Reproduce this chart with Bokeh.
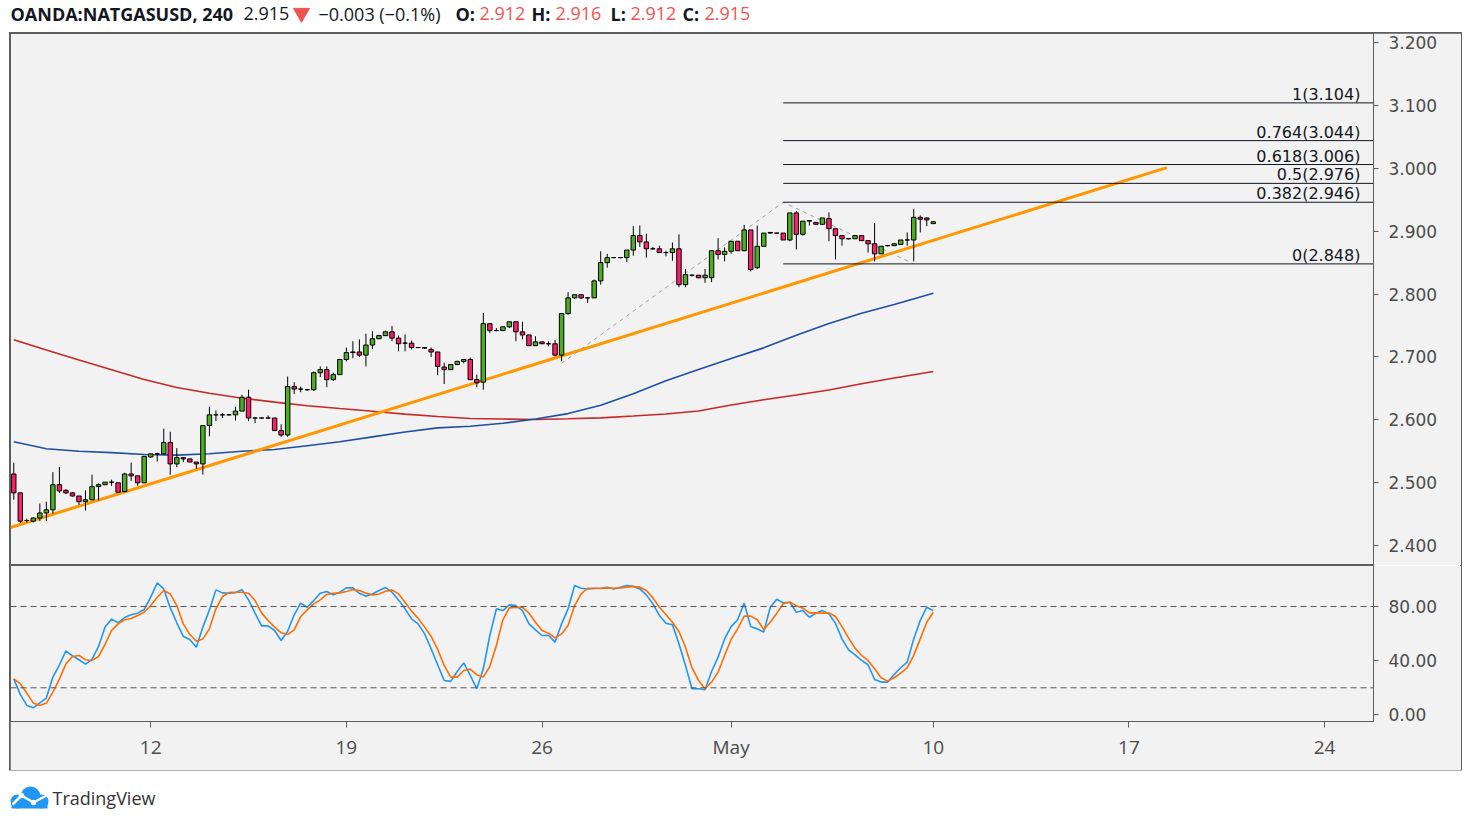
from bokeh.plotting import figure
from bokeh.layouts import column, row
from bokeh.models import (Range1d, FixedTicker, Span, ColumnDataSource, NumeralTickFormatter,
                          Spacer, BoxAnnotation)
from bokeh.core.properties import value
from bokeh.embed import file_html
from bokeh.resources import INLINE

# ---------------- data ----------------
symbol = "OANDA:NATGASUSD, 240"
last_price = 2.915
change = -0.003
change_pct = -0.1
hdr_o, hdr_h, hdr_l, hdr_c = 2.912, 2.916, 2.912, 2.915

opens = [2.514,2.484,2.440,2.439,2.444,2.452,2.457,2.497,2.488,2.484,
         2.479,2.470,2.473,2.494,2.497,2.501,2.500,2.486,2.514,2.511,
         2.500,2.541,2.546,2.546,2.564,2.530,2.540,2.538,2.533,2.530,
         2.591,2.608,2.608,2.608,2.608,2.614,2.636,2.603,2.603,2.603,
         2.603,2.583,2.576,2.653,2.649,2.648,2.648,2.675,2.680,2.664,
         2.672,2.696,2.707,2.708,2.703,2.719,2.729,2.734,2.740,2.730,
         2.722,2.722,2.715,2.715,2.712,2.708,2.684,2.680,2.688,2.693,
         2.696,2.664,2.660,2.753,2.742,2.742,2.748,2.756,2.740,2.735,
         2.718,2.724,2.721,2.721,2.703,2.769,2.794,2.799,2.794,2.794,
         2.821,2.850,2.858,2.858,2.858,2.870,2.893,2.883,2.872,2.872,
         2.866,2.866,2.872,2.815,2.830,2.830,2.826,2.826,2.869,2.863,
         2.868,2.884,2.869,2.902,2.842,2.876,2.897,2.897,2.897,2.886,
         2.929,2.895,2.916,2.914,2.911,2.920,2.904,2.893,2.888,2.888,
         2.893,2.885,2.880,2.864,2.877,2.877,2.879,2.886,2.886,2.922,
         2.921,2.912]
highs = [2.532,2.484,2.443,2.445,2.467,2.470,2.517,2.525,2.490,2.485,
         2.479,2.488,2.513,2.499,2.501,2.505,2.500,2.516,2.532,2.511,
         2.542,2.546,2.548,2.586,2.581,2.555,2.540,2.538,2.533,2.592,
         2.621,2.615,2.611,2.609,2.621,2.640,2.648,2.604,2.604,2.607,
         2.603,2.593,2.669,2.660,2.653,2.649,2.677,2.685,2.685,2.675,
         2.696,2.715,2.725,2.728,2.737,2.741,2.734,2.742,2.749,2.734,
         2.736,2.726,2.715,2.715,2.715,2.708,2.691,2.688,2.694,2.696,
         2.699,2.672,2.770,2.753,2.746,2.748,2.756,2.756,2.756,2.735,
         2.733,2.724,2.725,2.727,2.770,2.803,2.799,2.799,2.795,2.823,
         2.868,2.864,2.858,2.858,2.870,2.908,2.909,2.896,2.875,2.877,
         2.869,2.882,2.895,2.840,2.831,2.830,2.840,2.869,2.889,2.874,
         2.884,2.884,2.910,2.902,2.909,2.897,2.898,2.897,2.897,2.929,
         2.932,2.916,2.917,2.914,2.921,2.930,2.904,2.893,2.888,2.893,
         2.893,2.885,2.913,2.876,2.878,2.880,2.886,2.898,2.935,2.925,
         2.922,2.916]
lows = [2.473,2.436,2.437,2.437,2.439,2.439,2.451,2.484,2.482,2.478,
        2.465,2.456,2.472,2.472,2.496,2.495,2.485,2.485,2.503,2.495,
        2.500,2.540,2.534,2.545,2.513,2.525,2.533,2.533,2.522,2.513,
        2.574,2.598,2.603,2.607,2.599,2.614,2.598,2.595,2.602,2.602,
        2.583,2.573,2.573,2.641,2.644,2.646,2.646,2.668,2.652,2.662,
        2.672,2.693,2.698,2.700,2.685,2.713,2.729,2.733,2.725,2.709,
        2.709,2.712,2.714,2.713,2.700,2.671,2.657,2.679,2.687,2.690,
        2.664,2.652,2.648,2.738,2.741,2.741,2.746,2.725,2.728,2.718,
        2.718,2.721,2.717,2.701,2.693,2.767,2.792,2.792,2.786,2.794,
        2.815,2.842,2.857,2.857,2.851,2.861,2.875,2.858,2.871,2.866,
        2.860,2.853,2.811,2.811,2.828,2.825,2.818,2.819,2.855,2.852,
        2.864,2.869,2.868,2.836,2.840,2.876,2.896,2.896,2.886,2.884,
        2.871,2.893,2.909,2.911,2.910,2.884,2.855,2.877,2.887,2.888,
        2.885,2.866,2.852,2.864,2.876,2.877,2.879,2.877,2.852,2.898,
        2.908,2.912]
closes = [2.484,2.439,2.440,2.444,2.452,2.457,2.497,2.487,2.484,2.479,
          2.470,2.473,2.494,2.497,2.501,2.501,2.485,2.514,2.511,2.500,
          2.542,2.546,2.546,2.564,2.530,2.540,2.538,2.533,2.530,2.591,
          2.608,2.608,2.608,2.608,2.614,2.636,2.603,2.603,2.603,2.603,
          2.583,2.576,2.653,2.649,2.649,2.648,2.675,2.680,2.664,2.672,
          2.696,2.707,2.708,2.703,2.719,2.729,2.734,2.740,2.730,2.721,
          2.722,2.715,2.715,2.714,2.708,2.685,2.680,2.688,2.693,2.696,
          2.664,2.659,2.753,2.742,2.742,2.748,2.756,2.740,2.735,2.718,
          2.724,2.721,2.721,2.703,2.769,2.794,2.799,2.794,2.794,2.821,
          2.850,2.858,2.858,2.858,2.870,2.893,2.883,2.872,2.872,2.866,
          2.866,2.872,2.815,2.831,2.830,2.826,2.830,2.869,2.863,2.868,
          2.884,2.869,2.902,2.839,2.876,2.897,2.898,2.897,2.886,2.929,
          2.895,2.916,2.917,2.911,2.921,2.904,2.893,2.888,2.888,2.893,
          2.885,2.880,2.864,2.876,2.877,2.880,2.886,2.886,2.922,2.919,
          2.918,2.915]

# moving averages (sampled at bar indices)
ma_idx = [0,5,10,15,20,25,30,35,40,45,50,55,60,65,70,75,80,85,90,95,100,
          105,110,115,120,125,130,135,141]
ma_red = [2.7275,2.7111,2.6952,2.6797,2.6642,2.6515,2.6423,2.6345,2.6283,2.6226,
          2.6180,2.6137,2.6091,2.6054,2.6022,2.6013,2.6006,2.6018,2.6032,2.6062,
          2.6094,2.6141,2.6237,2.6320,2.6396,2.6475,2.6574,2.6666,2.6769]
ma_blue = [2.5652,2.5541,2.5501,2.5479,2.5450,2.5440,2.5461,2.5502,2.5529,2.5590,
           2.5653,2.5730,2.5808,2.5873,2.5900,2.5946,2.6014,2.6100,2.6232,2.6417,
           2.6623,2.6801,2.6975,2.7145,2.7345,2.7534,2.7696,2.7833,2.8014]

# stochastic
stoch_k = [26.6,15.1,7.0,5.2,8.9,12.4,27.9,37.0,47.3,43.6,
           40.7,37.5,40.9,50.5,64.8,70.7,68.0,71.9,73.9,75.1,
           77.8,86.9,97.5,93.0,79.0,68.0,57.9,55.7,50.0,64.8,
           77.5,92.3,90.1,89.8,90.3,92.5,84.9,75.1,65.7,65.7,
           62.3,54.9,61.8,73.9,82.5,79.5,84.4,89.8,91.1,88.6,
           90.6,93.8,93.8,89.8,87.6,89.3,91.8,94.0,90.6,84.9,
           78.3,70.9,67.2,59.8,48.8,37.0,25.4,24.7,32.0,38.4,
           29.1,19.3,34.0,58.6,78.3,77.0,81.2,80.7,77.0,67.2,
           62.8,58.6,58.8,53.7,67.2,78.3,95.5,93.5,93.0,93.3,
           93.5,94.3,93.0,94.3,95.5,95.0,93.0,88.6,82.0,73.4,
           67.7,66.5,52.5,36.5,19.3,19.3,18.5,32.0,42.6,56.1,
           65.2,70.2,82.5,65.2,63.5,61.1,79.5,85.4,82.7,83.2,
           75.8,77.0,72.1,75.1,77.0,74.6,67.7,56.1,48.0,44.3,
           40.2,37.0,26.1,24.2,24.2,29.8,34.8,38.9,56.1,69.7,
           79.5,77.0]
stoch_d = [26.6,23.0,16.1,8.7,7.0,8.7,16.8,26.4,37.7,43.1,
           43.9,40.7,40.2,43.1,52.0,62.3,67.2,70.2,71.1,73.4,
           75.8,80.7,86.9,91.8,89.3,80.7,67.2,59.3,54.4,56.1,
           63.5,78.3,87.4,90.3,90.6,90.6,89.8,84.4,75.3,69.7,
           64.8,60.6,59.3,62.8,72.6,77.5,82.0,84.9,88.9,89.8,
           90.1,91.1,92.5,91.8,89.8,88.6,89.3,91.3,92.3,89.3,
           83.2,76.6,71.4,64.8,57.9,48.5,36.5,27.9,27.9,32.8,
           33.8,29.6,27.9,35.7,51.2,70.2,79.0,79.3,79.5,75.1,
           68.4,62.3,60.3,56.9,59.8,66.0,80.7,89.3,93.5,93.5,
           93.3,93.8,93.5,93.8,94.3,94.8,94.3,91.8,86.4,79.5,
           74.1,68.4,61.6,50.0,34.8,25.4,19.3,24.2,31.6,43.9,
           55.7,63.5,72.9,72.9,70.4,63.0,68.4,75.1,82.0,83.4,
           80.5,78.8,75.3,75.3,75.1,75.3,72.6,65.2,56.9,49.3,
           43.9,40.2,34.0,27.4,24.9,27.4,30.8,34.8,43.9,56.1,
           68.4,75.8]

# drawings
trend_x = [-0.5, 176.8]
trend_y = [2.429, 3.001]
fib_pts_x = [84.0, 118.0, 138.0]
fib_pts_y = [2.690, 2.946, 2.848]
fib_ratios = ["1", "0.764", "0.618", "0.5", "0.382", "0"]
fib_levels = [3.104, 3.044, 3.006, 2.976, 2.946, 2.848]

price_ticks = [2.4, 2.5, 2.6, 2.7, 2.8, 2.9, 3.0, 3.1, 3.2]
stoch_ticks = [0, 40, 80]
date_ticks = [21, 51, 81, 110, 141, 171, 201]
date_labels = ["12", "19", "26", "May", "10", "17", "24"]

# ---------------- styling ----------------
FONT = "Open Sans"
AXFONT = "DejaVu Sans"
BG = "#f2f2f2"
GREEN = "#4caf22"
RED = "#fb1f6b"
BORDER = "#5d5d5d"
AXC = "#4c4c4c"
W = 1451          # chart box width (x 10 .. 1461)
X0, X1 = -0.5, 208.5
XR = 222.0        # right edge of the price-scale column, in bar units
PY0, PY1 = 2.3685, 3.2143
SY0, SY1 = -4.9, 110.3

n = len(opens)
idx = list(range(n))

# ---------------- header ----------------
HW = 1463
hdr = figure(width=HW, height=33, x_range=Range1d(0, HW), y_range=Range1d(0, 33),
             toolbar_location=None, output_backend="svg", min_border=0,
             x_axis_location=None, y_axis_location=None)
hdr.grid.visible = False
hdr.outline_line_color = None
hdr.background_fill_color = "white"
hdr.border_fill_color = "white"
HY = 20
hdr.text(x=[10, 455, 531, 610, 682], y=[HY] * 5,
         text=[symbol, "O:", "H:", "L:", "C:"],
         text_font=value(FONT), text_font_size="18px", text_font_style="bold",
         text_color="#131722", text_baseline="middle")
hdr.text(x=[243, 318], y=[HY] * 2,
         text=[f"{last_price:.3f}", f"\u2212{abs(change):.3f} (\u2212{abs(change_pct):.1f}%)"],
         text_font=value(FONT), text_font_size="18px",
         text_color="#131722", text_baseline="middle")
hdr.text(x=[479, 555, 630, 704], y=[HY] * 4,
         text=[f"{hdr_o:.3f}", f"{hdr_h:.3f}", f"{hdr_l:.3f}", f"{hdr_c:.3f}"],
         text_font=value(FONT), text_font_size="18px",
         text_color="#ef5350", text_baseline="middle")
hdr.scatter(x=[301], y=[HY + 0.5], marker="inverted_triangle", size=16,
            fill_color="#ef5350", line_color="#ef5350")

# ---------------- main price pane ----------------
p = figure(width=W, height=532, x_range=Range1d(X0, X1), y_range=Range1d(PY0, PY1),
           toolbar_location=None, output_backend="svg",
           x_axis_location=None, y_axis_location="right",
           min_border_left=0, min_border_right=88, min_border_top=0, min_border_bottom=0)
p.grid.visible = False
p.background_fill_color = BG
p.border_fill_color = BG
p.outline_line_color = BORDER
p.outline_line_width = 1
p.yaxis.ticker = FixedTicker(ticks=price_ticks)
p.yaxis.formatter = NumeralTickFormatter(format="0.000")
p.yaxis.major_label_text_font = AXFONT
p.yaxis.major_label_text_font_size = "17px"
p.yaxis.major_label_text_color = AXC
p.yaxis.major_tick_out = 5
p.yaxis.major_tick_in = 0
p.yaxis.minor_tick_line_color = None
p.yaxis.major_tick_line_color = BORDER
p.yaxis.axis_line_color = BORDER
p.yaxis.major_label_standoff = 10

p.line(ma_idx, ma_red, line_color="#c62828", line_width=1.6)
p.line(ma_idx, ma_blue, line_color="#1f4fa3", line_width=1.6)
p.line(trend_x, trend_y, line_color="#ff9800", line_width=3)
p.line(fib_pts_x, fib_pts_y, line_color="#a0a0a0", line_width=1, line_dash="4 4")

p.segment(x0=[fib_pts_x[1]] * len(fib_levels), x1=[X1 + 1] * len(fib_levels),
          y0=fib_levels, y1=fib_levels, line_color="#131722", line_width=1)
p.text(x=[206.5] * len(fib_levels), y=fib_levels,
       text=[f"{r}({v:.3f})" for r, v in zip(fib_ratios, fib_levels)],
       text_font=value(AXFONT), text_font_size="16px", text_color="#131722",
       text_align="right", text_baseline="bottom", y_offset=1)

src = ColumnDataSource(dict(
    x=idx,
    top=[max(o, c) for o, c in zip(opens, closes)],
    bottom=[min(o, c) for o, c in zip(opens, closes)],
    high=highs, low=lows,
    color=[GREEN if c >= o else RED for o, c in zip(opens, closes)],
))
p.segment(x0="x", y0="low", x1="x", y1="high", source=src, line_color="black", line_width=1)
p.vbar(x="x", width=0.68, top="top", bottom="bottom", source=src,
       fill_color="color", line_color="black", line_width=1)

# pane separator continued under the price scale
p.add_layout(BoxAnnotation(left=X1, right=XR, top=PY0, bottom=PY0,
                           fill_alpha=0, line_color=BORDER, line_width=1))

# ---------------- stochastic pane ----------------
s = figure(width=W, height=205, x_range=p.x_range, y_range=Range1d(SY0, SY1),
           toolbar_location=None, output_backend="svg",
           x_axis_location="below", y_axis_location="right",
           min_border_left=0, min_border_right=88, min_border_top=0, min_border_bottom=49)
s.grid.visible = False
s.background_fill_color = BG
s.border_fill_color = BG
s.outline_line_color = BORDER
s.yaxis.ticker = FixedTicker(ticks=stoch_ticks)
s.yaxis.formatter = NumeralTickFormatter(format="0.00")
s.xaxis.ticker = FixedTicker(ticks=date_ticks)
s.xaxis.major_label_overrides = {t: l for t, l in zip(date_ticks, date_labels)}
for ax, fnt, fs in ((s.yaxis, AXFONT, "17px"), (s.xaxis, FONT, "19px")):
    ax.major_label_text_font = fnt
    ax.major_label_text_font_size = fs
    ax.major_label_text_color = AXC
    ax.major_tick_in = 0
    ax.minor_tick_line_color = None
    ax.major_tick_line_color = BORDER
    ax.axis_line_color = BORDER
s.yaxis.major_tick_out = 5
s.yaxis.major_label_standoff = 10
s.xaxis.major_tick_out = 6
s.xaxis.major_label_standoff = 6

for lvl in (80, 20):
    s.add_layout(Span(location=lvl, dimension="width", line_color="#555555",
                      line_dash="6 4", line_width=1))
s.line(idx, stoch_k, line_color="#2196f3", line_width=1.6)
s.line(idx, stoch_d, line_color="#ff6d00", line_width=1.6)

# time-scale separators continued into the corner cell
s.add_layout(BoxAnnotation(left=X1, right=XR, top=SY0, bottom=SY0,
                           fill_alpha=0, line_color=BORDER, line_width=1))
s.add_layout(BoxAnnotation(left=X1, right=X1, top=SY0, bottom=SY0 - 40,
                           fill_alpha=0, line_color=BORDER, line_width=1))

# ---------------- footer ----------------
ft = figure(width=HW, height=50, x_range=Range1d(0, HW), y_range=Range1d(0, 50),
            toolbar_location=None, output_backend="svg", min_border=0,
            x_axis_location=None, y_axis_location=None)
ft.grid.visible = False
ft.outline_line_color = None
ft.background_fill_color = "white"
ft.border_fill_color = "white"
CLOUD = "#2196f3"
ft.scatter(x=[30, 17, 41], y=[24, 19, 19], size=[20, 14, 14], marker="circle",
           fill_color=CLOUD, line_color=None)
ft.quad(left=[11], right=[47], bottom=[12], top=[19], fill_color=CLOUD, line_color=None)
ft.line(x=[12, 21, 33, 46], y=[16, 25, 18, 25], line_color="white", line_width=2.5)
ft.scatter(x=[21, 33], y=[25, 18], size=5.5, marker="circle", fill_color="white", line_color=None)
ft.text(x=[52], y=[23], text=["TradingView"], text_font=value(FONT), text_font_size="18px",
        text_color="#333333", text_baseline="middle")

inner = column(p, s, spacing=0,
               styles={"outline": f"2px solid {BORDER}", "outline-offset": "-1px"})
chart_row = row(Spacer(width=10, height=737), inner, spacing=0)
layout = column(hdr, chart_row, ft, spacing=0)

open("out.html", "w").write(file_html(layout, INLINE))
